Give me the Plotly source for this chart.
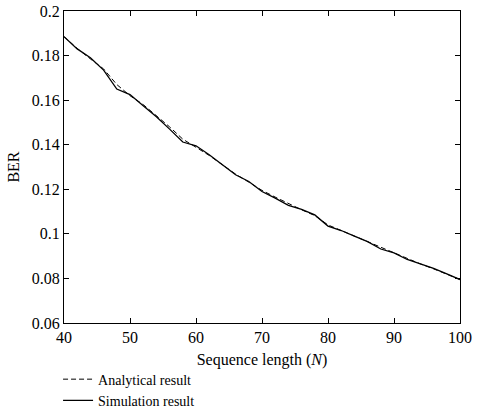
import plotly.graph_objects as go

N = [40, 42, 44, 46, 48, 50, 52, 54, 56, 58, 60, 62, 64, 66, 68, 70,
     72, 74, 76, 78, 80, 82, 84, 86, 88, 90, 92, 94, 96, 98, 100]
analytical = [0.1885, 0.1832, 0.1785, 0.1740, 0.1670, 0.1620, 0.1580, 0.1530,
              0.1480, 0.1425, 0.1390, 0.1352, 0.1310, 0.1268, 0.1232, 0.1195,
              0.1165, 0.1135, 0.1108, 0.1082, 0.1040, 0.1015, 0.0990, 0.0962,
              0.0938, 0.0915, 0.0887, 0.0865, 0.0843, 0.0820, 0.0795]
simulation = [0.1885, 0.1830, 0.1790, 0.1735, 0.1650, 0.1625, 0.1575, 0.1525,
              0.1470, 0.1412, 0.1395, 0.1355, 0.1310, 0.1265, 0.1235, 0.1190,
              0.1160, 0.1128, 0.1110, 0.1085, 0.1035, 0.1015, 0.0990, 0.0965,
              0.0932, 0.0915, 0.0885, 0.0865, 0.0845, 0.0820, 0.0795]

xticks = [40, 50, 60, 70, 80, 90, 100]
yticks = [0.06, 0.08, 0.1, 0.12, 0.14, 0.16, 0.18, 0.2]
ytick_labels = ["0.06", "0.08", "0.1", "0.12", "0.14", "0.16", "0.18", "0.2"]

FONT = "Liberation Serif, Times New Roman, serif"

fig = go.Figure()
fig.add_trace(go.Scatter(x=N, y=analytical, mode="lines", name="Analytical result",
                         line=dict(color="black", width=1, dash="5px,3px")))
fig.add_trace(go.Scatter(x=N, y=simulation, mode="lines", name="Simulation result",
                         line=dict(color="black", width=1.3)))

axis_common = dict(showline=True, linecolor="black", linewidth=1, mirror="ticks",
                   ticks="inside", ticklen=5, tickcolor="black", showgrid=False,
                   zeroline=False, tickfont=dict(family=FONT, size=16, color="black"))

fig.update_xaxes(range=[40, 100], tickvals=xticks,
                 title=dict(text="Sequence length (<i>N</i>)",
                            font=dict(family=FONT, size=16, color="black"), standoff=8),
                 **axis_common)
fig.update_yaxes(range=[0.06, 0.2], tickvals=yticks, ticktext=ytick_labels,
                 title=dict(text="BER", font=dict(family=FONT, size=16, color="black"),
                            standoff=8),
                 **axis_common)

fig.update_layout(
    width=478, height=414,
    margin=dict(l=64, r=18, t=11, b=91, autoexpand=False),
    plot_bgcolor="white", paper_bgcolor="white",
    font=dict(family=FONT, size=16, color="black"),
    showlegend=True,
    legend=dict(x=-0.015, xanchor="left", y=-0.13, yanchor="top",
                orientation="v", bgcolor="rgba(0,0,0,0)",
                font=dict(family=FONT, size=14, color="black")),
)

fig.write_html("out.html")
